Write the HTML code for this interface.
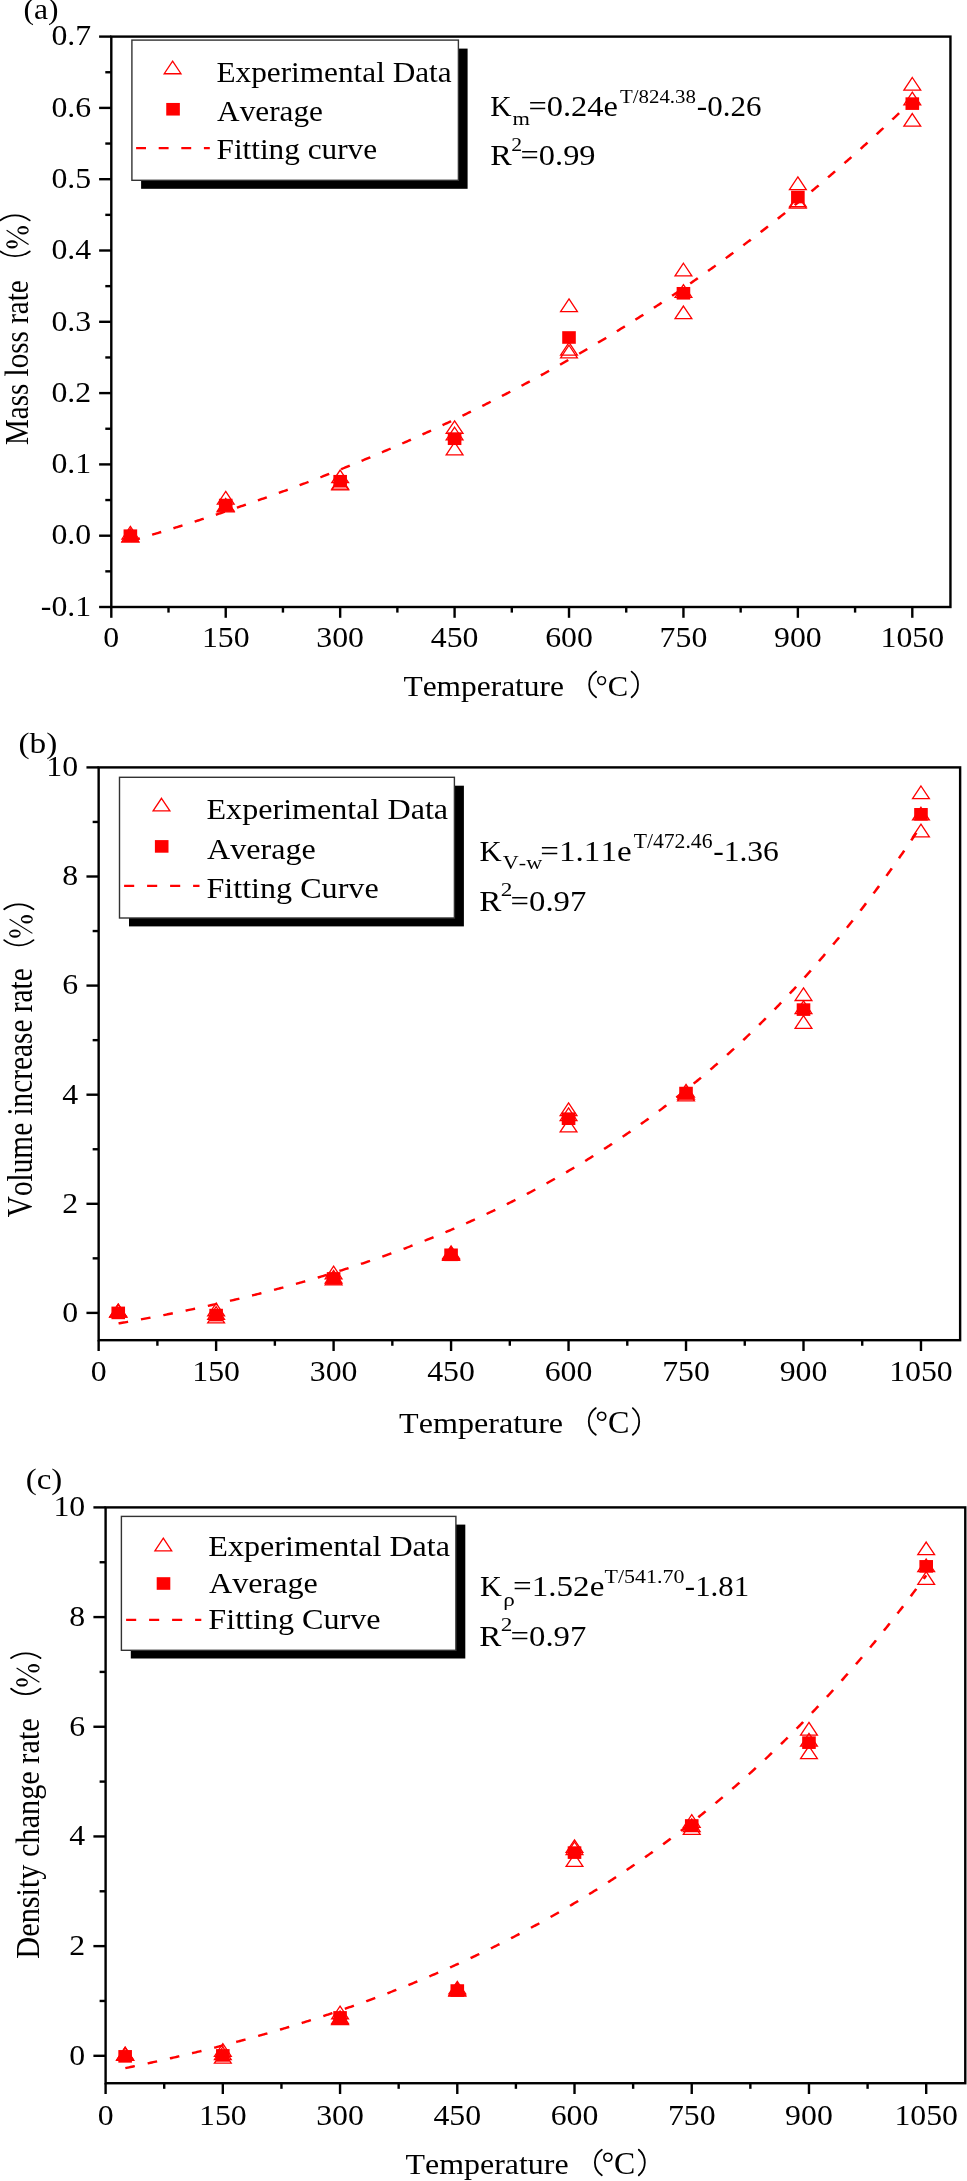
<!DOCTYPE html><html><head><meta charset="utf-8"><style>html,body{margin:0;padding:0;background:#fff;}svg{display:block;will-change:transform;} text{font-family:"Liberation Serif",serif;font-kerning:none;}</style></head><body>
<svg width="967" height="2181" viewBox="0 0 967 2181">
<rect width="967" height="2181" fill="#fff"/>
<rect x="111.30" y="36.60" width="839.14" height="570.40" fill="none" stroke="#000" stroke-width="2.4"/>
<line x1="99.10" y1="607.00" x2="111.30" y2="607.00" stroke="#000" stroke-width="2.4"/>
<line x1="99.10" y1="535.70" x2="111.30" y2="535.70" stroke="#000" stroke-width="2.4"/>
<line x1="99.10" y1="464.40" x2="111.30" y2="464.40" stroke="#000" stroke-width="2.4"/>
<line x1="99.10" y1="393.10" x2="111.30" y2="393.10" stroke="#000" stroke-width="2.4"/>
<line x1="99.10" y1="321.80" x2="111.30" y2="321.80" stroke="#000" stroke-width="2.4"/>
<line x1="99.10" y1="250.50" x2="111.30" y2="250.50" stroke="#000" stroke-width="2.4"/>
<line x1="99.10" y1="179.20" x2="111.30" y2="179.20" stroke="#000" stroke-width="2.4"/>
<line x1="99.10" y1="107.90" x2="111.30" y2="107.90" stroke="#000" stroke-width="2.4"/>
<line x1="99.10" y1="36.60" x2="111.30" y2="36.60" stroke="#000" stroke-width="2.4"/>
<line x1="105.30" y1="571.35" x2="111.30" y2="571.35" stroke="#000" stroke-width="2.4"/>
<line x1="105.30" y1="500.05" x2="111.30" y2="500.05" stroke="#000" stroke-width="2.4"/>
<line x1="105.30" y1="428.75" x2="111.30" y2="428.75" stroke="#000" stroke-width="2.4"/>
<line x1="105.30" y1="357.45" x2="111.30" y2="357.45" stroke="#000" stroke-width="2.4"/>
<line x1="105.30" y1="286.15" x2="111.30" y2="286.15" stroke="#000" stroke-width="2.4"/>
<line x1="105.30" y1="214.85" x2="111.30" y2="214.85" stroke="#000" stroke-width="2.4"/>
<line x1="105.30" y1="143.55" x2="111.30" y2="143.55" stroke="#000" stroke-width="2.4"/>
<line x1="105.30" y1="72.25" x2="111.30" y2="72.25" stroke="#000" stroke-width="2.4"/>
<line x1="111.30" y1="607.00" x2="111.30" y2="617.80" stroke="#000" stroke-width="2.4"/>
<line x1="225.73" y1="607.00" x2="225.73" y2="617.80" stroke="#000" stroke-width="2.4"/>
<line x1="340.16" y1="607.00" x2="340.16" y2="617.80" stroke="#000" stroke-width="2.4"/>
<line x1="454.59" y1="607.00" x2="454.59" y2="617.80" stroke="#000" stroke-width="2.4"/>
<line x1="569.01" y1="607.00" x2="569.01" y2="617.80" stroke="#000" stroke-width="2.4"/>
<line x1="683.44" y1="607.00" x2="683.44" y2="617.80" stroke="#000" stroke-width="2.4"/>
<line x1="797.87" y1="607.00" x2="797.87" y2="617.80" stroke="#000" stroke-width="2.4"/>
<line x1="912.30" y1="607.00" x2="912.30" y2="617.80" stroke="#000" stroke-width="2.4"/>
<line x1="168.51" y1="607.00" x2="168.51" y2="612.60" stroke="#000" stroke-width="2.4"/>
<line x1="282.94" y1="607.00" x2="282.94" y2="612.60" stroke="#000" stroke-width="2.4"/>
<line x1="397.37" y1="607.00" x2="397.37" y2="612.60" stroke="#000" stroke-width="2.4"/>
<line x1="511.80" y1="607.00" x2="511.80" y2="612.60" stroke="#000" stroke-width="2.4"/>
<line x1="626.23" y1="607.00" x2="626.23" y2="612.60" stroke="#000" stroke-width="2.4"/>
<line x1="740.66" y1="607.00" x2="740.66" y2="612.60" stroke="#000" stroke-width="2.4"/>
<line x1="855.09" y1="607.00" x2="855.09" y2="612.60" stroke="#000" stroke-width="2.4"/>
<text transform="translate(40.86,615.76) scale(1.0600,1)" font-size="30.00" fill="#000">-0.1</text>
<text transform="translate(51.45,544.46) scale(1.0600,1)" font-size="30.00" fill="#000">0.0</text>
<text transform="translate(51.45,473.16) scale(1.0600,1)" font-size="30.00" fill="#000">0.1</text>
<text transform="translate(51.45,401.86) scale(1.0600,1)" font-size="30.00" fill="#000">0.2</text>
<text transform="translate(51.45,330.56) scale(1.0600,1)" font-size="30.00" fill="#000">0.3</text>
<text transform="translate(51.45,259.26) scale(1.0600,1)" font-size="30.00" fill="#000">0.4</text>
<text transform="translate(51.45,187.96) scale(1.0600,1)" font-size="30.00" fill="#000">0.5</text>
<text transform="translate(51.45,116.66) scale(1.0600,1)" font-size="30.00" fill="#000">0.6</text>
<text transform="translate(51.45,45.36) scale(1.0600,1)" font-size="30.00" fill="#000">0.7</text>
<text transform="translate(103.35,646.80) scale(1.0600,1)" font-size="30.00" fill="#000">0</text>
<text transform="translate(201.88,646.80) scale(1.0600,1)" font-size="30.00" fill="#000">150</text>
<text transform="translate(316.31,646.80) scale(1.0600,1)" font-size="30.00" fill="#000">300</text>
<text transform="translate(430.74,646.80) scale(1.0600,1)" font-size="30.00" fill="#000">450</text>
<text transform="translate(545.16,646.80) scale(1.0600,1)" font-size="30.00" fill="#000">600</text>
<text transform="translate(659.59,646.80) scale(1.0600,1)" font-size="30.00" fill="#000">750</text>
<text transform="translate(774.02,646.80) scale(1.0600,1)" font-size="30.00" fill="#000">900</text>
<text transform="translate(880.50,646.80) scale(1.0600,1)" font-size="30.00" fill="#000">1050</text>
<text transform="translate(23.41,19.40) scale(1.0714,1)" font-size="29.50" fill="#000">(a)</text>
<text transform="translate(28.20,445.04) scale(1.1335,1) rotate(-90)" font-size="29.09">Mass loss rate</text>
<path d="M0.40,251.40 A24.76,24.76 0 0,0 29.70,251.40" fill="none" stroke="#000" stroke-width="1.8" stroke-linecap="round"/>
<path d="M0.40,220.40 A23.96,23.96 0 0,1 29.70,220.40" fill="none" stroke="#000" stroke-width="1.8" stroke-linecap="round"/>
<path d="M17.40,230.35 a5.65,4.25 0 1,0 11.30,0 a5.65,4.25 0 1,0 -11.30,0 Z M18.50,230.35 a4.55,2.05 0 1,0 9.10,0 a4.55,2.05 0 1,0 -9.10,0 Z" fill="#000" fill-rule="evenodd"/>
<path d="M6.20,244.30 a5.80,4.10 0 1,0 11.60,0 a5.80,4.10 0 1,0 -11.60,0 Z M7.30,244.30 a4.70,1.90 0 1,0 9.40,0 a4.70,1.90 0 1,0 -9.40,0 Z" fill="#000" fill-rule="evenodd"/>
<line x1="6.60" y1="230.20" x2="28.60" y2="244.50" stroke="#000" stroke-width="1.1"/>
<text transform="translate(403.43,696.10) scale(1.0478,1)" font-size="30.00" fill="#000">Temperature</text>
<path d="M596.10,671.60 A15.32,15.32 0 0,0 596.10,697.20" fill="none" stroke="#000" stroke-width="1.8" stroke-linecap="round"/>
<path d="M631.60,671.60 A16.00,16.00 0 0,1 631.60,697.20" fill="none" stroke="#000" stroke-width="1.8" stroke-linecap="round"/>
<text transform="translate(595.54,696.20) scale(1.0125,1)" font-size="30.23" fill="#000">°C</text>
<rect x="141.10" y="48.60" width="326.50" height="140.20" fill="#000"/>
<rect x="131.90" y="40.10" width="326.50" height="140.20" fill="#fff" stroke="#333" stroke-width="1.4"/>
<path d="M172.60,61.10 L181.00,73.75 L164.20,73.75 Z" fill="none" stroke="#ff0000" stroke-width="1.3"/>
<rect x="166.25" y="102.95" width="13.60" height="12.60" fill="#ff0000"/>
<line x1="136.10" y1="148.10" x2="209.80" y2="148.10" stroke="#ff0000" stroke-width="2.2" stroke-dasharray="9.9 12.7"/>
<text transform="translate(216.50,82.10) scale(1.0670,1)" font-size="29.30" fill="#000">Experimental Data</text>
<text transform="translate(217.09,120.70) scale(1.0670,1)" font-size="29.30" fill="#000">Average</text>
<text transform="translate(216.50,159.40) scale(1.0670,1)" font-size="29.30" fill="#000">Fitting curve</text>
<text transform="translate(490.35,116.00) scale(0.9990,1)" font-size="29.60" fill="#000">K</text>
<text transform="translate(512.43,124.60) scale(1.2238,1)" font-size="18.30" fill="#000">m</text>
<text transform="translate(528.38,116.00) scale(1.0969,1)" font-size="29.60" fill="#000">=0.24e</text>
<text transform="translate(619.92,102.80) scale(1.0613,1)" font-size="19.70" fill="#000">T/824.38</text>
<text transform="translate(696.85,115.80) scale(1.0490,1)" font-size="29.60" fill="#000">-0.26</text>
<text transform="translate(490.27,164.80) scale(1.0914,1)" font-size="29.50" fill="#000">R</text>
<text transform="translate(511.35,151.10) scale(1.1731,1)" font-size="18.50" fill="#000">2</text>
<text transform="translate(520.59,165.10) scale(1.0978,1)" font-size="29.50" fill="#000">=0.99</text>
<g transform="scale(1.08,1)"><path d="M120.714,541.09 L121.921,540.71 L123.128,540.34 L124.334,539.96 L125.541,539.58 L126.748,539.20 L127.954,538.82 L129.161,538.44 L130.368,538.06 L131.574,537.68 L132.781,537.29 L133.988,536.91 L135.194,536.53 L136.401,536.14 L137.608,535.75 L138.814,535.37 L140.021,534.98 L141.228,534.59 L142.435,534.20 L143.641,533.81 L144.848,533.42 L146.055,533.03 L147.261,532.64 L148.468,532.24 L149.675,531.85 L150.881,531.46 L152.088,531.06 L153.295,530.66 L154.501,530.27 L155.708,529.87 L156.915,529.47 L158.121,529.07 L159.328,528.67 L160.535,528.27 L161.741,527.87 L162.948,527.46 L164.155,527.06 L165.361,526.65 L166.568,526.25 L167.775,525.84 L168.981,525.44 L170.188,525.03 L171.395,524.62 L172.602,524.21 L173.808,523.80 L175.015,523.39 L176.222,522.98 L177.428,522.56 L178.635,522.15 L179.842,521.74 L181.048,521.32 L182.255,520.90 L183.462,520.49 L184.668,520.07 L185.875,519.65 L187.082,519.23 L188.288,518.81 L189.495,518.39 L190.702,517.97 L191.908,517.54 L193.115,517.12 L194.322,516.70 L195.528,516.27 L196.735,515.84 L197.942,515.42 L199.148,514.99 L200.355,514.56 L201.562,514.13 L202.769,513.70 L203.975,513.27 L205.182,512.83 L206.389,512.40 L207.595,511.97 L208.802,511.53 L210.009,511.09 L211.215,510.66 L212.422,510.22 L213.629,509.78 L214.835,509.34 L216.042,508.90 L217.249,508.46 L218.455,508.02 L219.662,507.57 L220.869,507.13 L222.075,506.68 L223.282,506.24 L224.489,505.79 L225.695,505.34 L226.902,504.89 L228.109,504.45 L229.315,503.99 L230.522,503.54 L231.729,503.09 L232.936,502.64 L234.142,502.18 L235.349,501.73 L236.556,501.27 L237.762,500.82 L238.969,500.36 L240.176,499.90 L241.382,499.44 L242.589,498.98 L243.796,498.52 L245.002,498.05 L246.209,497.59 L247.416,497.13 L248.622,496.66 L249.829,496.19 L251.036,495.73 L252.242,495.26 L253.449,494.79 L254.656,494.32 L255.862,493.85 L257.069,493.38 L258.276,492.90 L259.482,492.43 L260.689,491.95 L261.896,491.48 L263.103,491.00 L264.309,490.52 L265.516,490.04 L266.723,489.56 L267.929,489.08 L269.136,488.60 L270.343,488.12 L271.549,487.64 L272.756,487.15 L273.963,486.67 L275.169,486.18 L276.376,485.69 L277.583,485.20 L278.789,484.71 L279.996,484.22 L281.203,483.73 L282.409,483.24 L283.616,482.74 L284.823,482.25 L286.029,481.75 L287.236,481.26 L288.443,480.76 L289.649,480.26 L290.856,479.76 L292.063,479.26 L293.270,478.76 L294.476,478.26 L295.683,477.75 L296.890,477.25 L298.096,476.74 L299.303,476.23 L300.510,475.73 L301.716,475.22 L302.923,474.71 L304.130,474.20 L305.336,473.69 L306.543,473.17 L307.750,472.66 L308.956,472.14 L310.163,471.63 L311.370,471.11 L312.576,470.59 L313.783,470.07 L314.990,469.55 L316.196,469.03 L317.403,468.51 L318.610,467.98 L319.816,467.46 L321.023,466.93 L322.230,466.41 L323.437,465.88 L324.643,465.35 L325.850,464.82 L327.057,464.29 L328.263,463.76 L329.470,463.22 L330.677,462.69 L331.883,462.15 L333.090,461.62 L334.297,461.08 L335.503,460.54 L336.710,460.00 L337.917,459.46 L339.123,458.92 L340.330,458.38 L341.537,457.83 L342.743,457.29 L343.950,456.74 L345.157,456.19 L346.363,455.64 L347.570,455.09 L348.777,454.54 L349.983,453.99 L351.190,453.44 L352.397,452.88 L353.604,452.33 L354.810,451.77 L356.017,451.21 L357.224,450.65 L358.430,450.09 L359.637,449.53 L360.844,448.97 L362.050,448.41 L363.257,447.84 L364.464,447.28 L365.670,446.71 L366.877,446.14 L368.084,445.57 L369.290,445.00 L370.497,444.43 L371.704,443.86 L372.910,443.29 L374.117,442.71 L375.324,442.14 L376.530,441.56 L377.737,440.98 L378.944,440.40 L380.150,439.82 L381.357,439.24 L382.564,438.66 L383.771,438.07 L384.977,437.49 L386.184,436.90 L387.391,436.31 L388.597,435.72 L389.804,435.13 L391.011,434.54 L392.217,433.95 L393.424,433.35 L394.631,432.76 L395.837,432.16 L397.044,431.56 L398.251,430.97 L399.457,430.37 L400.664,429.76 L401.871,429.16 L403.077,428.56 L404.284,427.95 L405.491,427.35 L406.697,426.74 L407.904,426.13 L409.111,425.52 L410.317,424.91 L411.524,424.30 L412.731,423.69 L413.938,423.07 L415.144,422.46 L416.351,421.84 L417.558,421.22 L418.764,420.60 L419.971,419.98 L421.178,419.36 L422.384,418.73 L423.591,418.11 L424.798,417.48 L426.004,416.85 L427.211,416.23 L428.418,415.60 L429.624,414.97 L430.831,414.33 L432.038,413.70 L433.244,413.06 L434.451,412.43 L435.658,411.79 L436.864,411.15 L438.071,410.51 L439.278,409.87 L440.484,409.23 L441.691,408.58 L442.898,407.94 L444.104,407.29 L445.311,406.64 L446.518,405.99 L447.725,405.34 L448.931,404.69 L450.138,404.04 L451.345,403.38 L452.551,402.73 L453.758,402.07 L454.965,401.41 L456.171,400.75 L457.378,400.09 L458.585,399.43 L459.791,398.76 L460.998,398.10 L462.205,397.43 L463.411,396.76 L464.618,396.09 L465.825,395.42 L467.031,394.75 L468.238,394.08 L469.445,393.40 L470.651,392.72 L471.858,392.05 L473.065,391.37 L474.271,390.69 L475.478,390.01 L476.685,389.32 L477.892,388.64 L479.098,387.95 L480.305,387.26 L481.512,386.58 L482.718,385.89 L483.925,385.19 L485.132,384.50 L486.338,383.81 L487.545,383.11 L488.752,382.41 L489.958,381.71 L491.165,381.01 L492.372,380.31 L493.578,379.61 L494.785,378.91 L495.992,378.20 L497.198,377.49 L498.405,376.78 L499.612,376.07 L500.818,375.36 L502.025,374.65 L503.232,373.94 L504.438,373.22 L505.645,372.50 L506.852,371.78 L508.059,371.06 L509.265,370.34 L510.472,369.62 L511.679,368.89 L512.885,368.17 L514.092,367.44 L515.299,366.71 L516.505,365.98 L517.712,365.25 L518.919,364.51 L520.125,363.78 L521.332,363.04 L522.539,362.30 L523.745,361.57 L524.952,360.82 L526.159,360.08 L527.365,359.34 L528.572,358.59 L529.779,357.84 L530.985,357.10 L532.192,356.35 L533.399,355.59 L534.605,354.84 L535.812,354.09 L537.019,353.33 L538.226,352.57 L539.432,351.81 L540.639,351.05 L541.846,350.29 L543.052,349.53 L544.259,348.76 L545.466,347.99 L546.672,347.22 L547.879,346.45 L549.086,345.68 L550.292,344.91 L551.499,344.13 L552.706,343.36 L553.912,342.58 L555.119,341.80 L556.326,341.02 L557.532,340.24 L558.739,339.45 L559.946,338.67 L561.152,337.88 L562.359,337.09 L563.566,336.30 L564.772,335.51 L565.979,334.71 L567.186,333.92 L568.393,333.12 L569.599,332.32 L570.806,331.52 L572.013,330.72 L573.219,329.91 L574.426,329.11 L575.633,328.30 L576.839,327.49 L578.046,326.68 L579.253,325.87 L580.459,325.06 L581.666,324.24 L582.873,323.42 L584.079,322.61 L585.286,321.79 L586.493,320.96 L587.699,320.14 L588.906,319.32 L590.113,318.49 L591.319,317.66 L592.526,316.83 L593.733,316.00 L594.939,315.16 L596.146,314.33 L597.353,313.49 L598.560,312.65 L599.766,311.81 L600.973,310.97 L602.180,310.13 L603.386,309.28 L604.593,308.43 L605.800,307.58 L607.006,306.73 L608.213,305.88 L609.420,305.03 L610.626,304.17 L611.833,303.31 L613.040,302.45 L614.246,301.59 L615.453,300.73 L616.660,299.86 L617.866,299.00 L619.073,298.13 L620.280,297.26 L621.486,296.39 L622.693,295.51 L623.900,294.64 L625.106,293.76 L626.313,292.88 L627.520,292.00 L628.727,291.12 L629.933,290.24 L631.140,289.35 L632.347,288.46 L633.553,287.57 L634.760,286.68 L635.967,285.79 L637.173,284.89 L638.380,283.99 L639.587,283.10 L640.793,282.20 L642.000,281.29 L643.207,280.39 L644.413,279.48 L645.620,278.58 L646.827,277.67 L648.033,276.75 L649.240,275.84 L650.447,274.92 L651.653,274.01 L652.860,273.09 L654.067,272.17 L655.273,271.24 L656.480,270.32 L657.687,269.39 L658.894,268.47 L660.100,267.53 L661.307,266.60 L662.514,265.67 L663.720,264.73 L664.927,263.79 L666.134,262.85 L667.340,261.91 L668.547,260.97 L669.754,260.02 L670.960,259.08 L672.167,258.13 L673.374,257.18 L674.580,256.22 L675.787,255.27 L676.994,254.31 L678.200,253.35 L679.407,252.39 L680.614,251.43 L681.820,250.46 L683.027,249.49 L684.234,248.53 L685.440,247.55 L686.647,246.58 L687.854,245.61 L689.061,244.63 L690.267,243.65 L691.474,242.67 L692.681,241.69 L693.887,240.70 L695.094,239.72 L696.301,238.73 L697.507,237.74 L698.714,236.74 L699.921,235.75 L701.127,234.75 L702.334,233.75 L703.541,232.75 L704.747,231.75 L705.954,230.74 L707.161,229.74 L708.367,228.73 L709.574,227.72 L710.781,226.70 L711.987,225.69 L713.194,224.67 L714.401,223.65 L715.607,222.63 L716.814,221.61 L718.021,220.58 L719.228,219.55 L720.434,218.52 L721.641,217.49 L722.848,216.46 L724.054,215.42 L725.261,214.38 L726.468,213.34 L727.674,212.30 L728.881,211.26 L730.088,210.21 L731.294,209.16 L732.501,208.11 L733.708,207.06 L734.914,206.00 L736.121,204.95 L737.328,203.89 L738.534,202.82 L739.741,201.76 L740.948,200.69 L742.154,199.63 L743.361,198.56 L744.568,197.48 L745.774,196.41 L746.981,195.33 L748.188,194.25 L749.395,193.17 L750.601,192.09 L751.808,191.00 L753.015,189.91 L754.221,188.82 L755.428,187.73 L756.635,186.64 L757.841,185.54 L759.048,184.44 L760.255,183.34 L761.461,182.24 L762.668,181.13 L763.875,180.02 L765.081,178.91 L766.288,177.80 L767.495,176.69 L768.701,175.57 L769.908,174.45 L771.115,173.33 L772.321,172.21 L773.528,171.08 L774.735,169.95 L775.941,168.82 L777.148,167.69 L778.355,166.55 L779.562,165.42 L780.768,164.28 L781.975,163.13 L783.182,161.99 L784.388,160.84 L785.595,159.69 L786.802,158.54 L788.008,157.39 L789.215,156.23 L790.422,155.07 L791.628,153.91 L792.835,152.75 L794.042,151.58 L795.248,150.41 L796.455,149.24 L797.662,148.07 L798.868,146.90 L800.075,145.72 L801.282,144.54 L802.488,143.36 L803.695,142.17 L804.902,140.99 L806.108,139.80 L807.315,138.60 L808.522,137.41 L809.729,136.21 L810.935,135.01 L812.142,133.81 L813.349,132.61 L814.555,131.40 L815.762,130.19 L816.969,128.98 L818.175,127.77 L819.382,126.55 L820.589,125.33 L821.795,124.11 L823.002,122.89 L824.209,121.66 L825.415,120.43 L826.622,119.20 L827.829,117.97 L829.035,116.73 L830.242,115.49 L831.449,114.25 L832.655,113.01 L833.862,111.76 L835.069,110.51 L836.275,109.26 L837.482,108.00 L838.689,106.75 L839.896,105.49 L841.102,104.23 L842.309,102.96 L843.516,101.70 L844.722,100.43" fill="none" stroke="#ff0000" stroke-width="2.4" stroke-dasharray="8.85 11.912" stroke-dashoffset="20.412"/></g>
<path d="M130.37,526.35 L138.77,539.00 L121.97,539.00 Z" fill="none" stroke="#ff0000" stroke-width="1.3"/>
<path d="M130.37,529.20 L138.77,541.85 L121.97,541.85 Z" fill="none" stroke="#ff0000" stroke-width="1.3"/>
<path d="M130.37,529.20 L138.77,541.85 L121.97,541.85 Z" fill="none" stroke="#ff0000" stroke-width="1.3"/>
<rect x="123.57" y="529.40" width="13.60" height="12.60" fill="#ff0000"/>
<path d="M225.73,491.41 L234.13,504.06 L217.33,504.06 Z" fill="none" stroke="#ff0000" stroke-width="1.3"/>
<path d="M225.73,498.54 L234.13,511.19 L217.33,511.19 Z" fill="none" stroke="#ff0000" stroke-width="1.3"/>
<path d="M225.73,499.25 L234.13,511.90 L217.33,511.90 Z" fill="none" stroke="#ff0000" stroke-width="1.3"/>
<rect x="218.93" y="498.74" width="13.60" height="12.60" fill="#ff0000"/>
<path d="M340.16,470.02 L348.56,482.67 L331.76,482.67 Z" fill="none" stroke="#ff0000" stroke-width="1.3"/>
<path d="M340.16,476.44 L348.56,489.09 L331.76,489.09 Z" fill="none" stroke="#ff0000" stroke-width="1.3"/>
<path d="M340.16,477.15 L348.56,489.80 L331.76,489.80 Z" fill="none" stroke="#ff0000" stroke-width="1.3"/>
<rect x="333.36" y="474.93" width="13.60" height="12.60" fill="#ff0000"/>
<path d="M454.59,420.82 L462.99,433.47 L446.19,433.47 Z" fill="none" stroke="#ff0000" stroke-width="1.3"/>
<path d="M454.59,427.24 L462.99,439.89 L446.19,439.89 Z" fill="none" stroke="#ff0000" stroke-width="1.3"/>
<path d="M454.59,442.21 L462.99,454.86 L446.19,454.86 Z" fill="none" stroke="#ff0000" stroke-width="1.3"/>
<rect x="447.79" y="432.43" width="13.60" height="12.60" fill="#ff0000"/>
<path d="M569.01,298.90 L577.41,311.55 L560.61,311.55 Z" fill="none" stroke="#ff0000" stroke-width="1.3"/>
<path d="M569.01,342.39 L577.41,355.04 L560.61,355.04 Z" fill="none" stroke="#ff0000" stroke-width="1.3"/>
<path d="M569.01,345.25 L577.41,357.90 L560.61,357.90 Z" fill="none" stroke="#ff0000" stroke-width="1.3"/>
<rect x="562.21" y="331.19" width="13.60" height="12.60" fill="#ff0000"/>
<path d="M683.44,263.25 L691.84,275.90 L675.04,275.90 Z" fill="none" stroke="#ff0000" stroke-width="1.3"/>
<path d="M683.44,284.64 L691.84,297.29 L675.04,297.29 Z" fill="none" stroke="#ff0000" stroke-width="1.3"/>
<path d="M683.44,306.03 L691.84,318.68 L675.04,318.68 Z" fill="none" stroke="#ff0000" stroke-width="1.3"/>
<rect x="676.64" y="286.98" width="13.60" height="12.60" fill="#ff0000"/>
<path d="M797.87,176.98 L806.27,189.63 L789.47,189.63 Z" fill="none" stroke="#ff0000" stroke-width="1.3"/>
<path d="M797.87,194.09 L806.27,206.74 L789.47,206.74 Z" fill="none" stroke="#ff0000" stroke-width="1.3"/>
<path d="M797.87,195.52 L806.27,208.17 L789.47,208.17 Z" fill="none" stroke="#ff0000" stroke-width="1.3"/>
<rect x="791.07" y="190.73" width="13.60" height="12.60" fill="#ff0000"/>
<path d="M912.30,77.51 L920.70,90.16 L903.90,90.16 Z" fill="none" stroke="#ff0000" stroke-width="1.3"/>
<path d="M912.30,92.13 L920.70,104.78 L903.90,104.78 Z" fill="none" stroke="#ff0000" stroke-width="1.3"/>
<path d="M912.30,113.52 L920.70,126.17 L903.90,126.17 Z" fill="none" stroke="#ff0000" stroke-width="1.3"/>
<rect x="905.50" y="97.32" width="13.60" height="12.60" fill="#ff0000"/>
<rect x="98.65" y="767.40" width="861.48" height="572.78" fill="none" stroke="#000" stroke-width="2.4"/>
<line x1="86.45" y1="1312.90" x2="98.65" y2="1312.90" stroke="#000" stroke-width="2.4"/>
<line x1="86.45" y1="1203.80" x2="98.65" y2="1203.80" stroke="#000" stroke-width="2.4"/>
<line x1="86.45" y1="1094.70" x2="98.65" y2="1094.70" stroke="#000" stroke-width="2.4"/>
<line x1="86.45" y1="985.60" x2="98.65" y2="985.60" stroke="#000" stroke-width="2.4"/>
<line x1="86.45" y1="876.50" x2="98.65" y2="876.50" stroke="#000" stroke-width="2.4"/>
<line x1="86.45" y1="767.40" x2="98.65" y2="767.40" stroke="#000" stroke-width="2.4"/>
<line x1="92.65" y1="1258.35" x2="98.65" y2="1258.35" stroke="#000" stroke-width="2.4"/>
<line x1="92.65" y1="1149.25" x2="98.65" y2="1149.25" stroke="#000" stroke-width="2.4"/>
<line x1="92.65" y1="1040.15" x2="98.65" y2="1040.15" stroke="#000" stroke-width="2.4"/>
<line x1="92.65" y1="931.05" x2="98.65" y2="931.05" stroke="#000" stroke-width="2.4"/>
<line x1="92.65" y1="821.95" x2="98.65" y2="821.95" stroke="#000" stroke-width="2.4"/>
<line x1="98.65" y1="1340.18" x2="98.65" y2="1350.98" stroke="#000" stroke-width="2.4"/>
<line x1="216.12" y1="1340.18" x2="216.12" y2="1350.98" stroke="#000" stroke-width="2.4"/>
<line x1="333.60" y1="1340.18" x2="333.60" y2="1350.98" stroke="#000" stroke-width="2.4"/>
<line x1="451.07" y1="1340.18" x2="451.07" y2="1350.98" stroke="#000" stroke-width="2.4"/>
<line x1="568.55" y1="1340.18" x2="568.55" y2="1350.98" stroke="#000" stroke-width="2.4"/>
<line x1="686.02" y1="1340.18" x2="686.02" y2="1350.98" stroke="#000" stroke-width="2.4"/>
<line x1="803.50" y1="1340.18" x2="803.50" y2="1350.98" stroke="#000" stroke-width="2.4"/>
<line x1="920.97" y1="1340.18" x2="920.97" y2="1350.98" stroke="#000" stroke-width="2.4"/>
<line x1="157.39" y1="1340.18" x2="157.39" y2="1345.78" stroke="#000" stroke-width="2.4"/>
<line x1="274.86" y1="1340.18" x2="274.86" y2="1345.78" stroke="#000" stroke-width="2.4"/>
<line x1="392.34" y1="1340.18" x2="392.34" y2="1345.78" stroke="#000" stroke-width="2.4"/>
<line x1="509.81" y1="1340.18" x2="509.81" y2="1345.78" stroke="#000" stroke-width="2.4"/>
<line x1="627.28" y1="1340.18" x2="627.28" y2="1345.78" stroke="#000" stroke-width="2.4"/>
<line x1="744.76" y1="1340.18" x2="744.76" y2="1345.78" stroke="#000" stroke-width="2.4"/>
<line x1="862.23" y1="1340.18" x2="862.23" y2="1345.78" stroke="#000" stroke-width="2.4"/>
<text transform="translate(62.20,1321.73) scale(1.0600,1)" font-size="30.00" fill="#000">0</text>
<text transform="translate(62.20,1212.73) scale(1.0600,1)" font-size="30.00" fill="#000">2</text>
<text transform="translate(62.20,1103.57) scale(1.0600,1)" font-size="30.00" fill="#000">4</text>
<text transform="translate(62.20,994.39) scale(1.0600,1)" font-size="30.00" fill="#000">6</text>
<text transform="translate(62.20,885.33) scale(1.0600,1)" font-size="30.00" fill="#000">8</text>
<text transform="translate(46.30,776.23) scale(1.0600,1)" font-size="30.00" fill="#000">10</text>
<text transform="translate(90.70,1380.80) scale(1.0600,1)" font-size="30.00" fill="#000">0</text>
<text transform="translate(192.27,1380.80) scale(1.0600,1)" font-size="30.00" fill="#000">150</text>
<text transform="translate(309.75,1380.80) scale(1.0600,1)" font-size="30.00" fill="#000">300</text>
<text transform="translate(427.22,1380.80) scale(1.0600,1)" font-size="30.00" fill="#000">450</text>
<text transform="translate(544.70,1380.80) scale(1.0600,1)" font-size="30.00" fill="#000">600</text>
<text transform="translate(662.17,1380.80) scale(1.0600,1)" font-size="30.00" fill="#000">750</text>
<text transform="translate(779.65,1380.80) scale(1.0600,1)" font-size="30.00" fill="#000">900</text>
<text transform="translate(889.17,1380.80) scale(1.0600,1)" font-size="30.00" fill="#000">1050</text>
<text transform="translate(18.44,752.90) scale(1.1288,1)" font-size="29.50" fill="#000">(b)</text>
<text transform="translate(32.10,1217.23) scale(1.1983,1) rotate(-90)" font-size="29.30">Volume increase rate</text>
<path d="M4.20,940.10 A23.24,23.24 0 0,0 33.50,940.10" fill="none" stroke="#000" stroke-width="1.8" stroke-linecap="round"/>
<path d="M4.20,909.20 A24.35,24.35 0 0,1 33.50,909.20" fill="none" stroke="#000" stroke-width="1.8" stroke-linecap="round"/>
<path d="M20.90,919.20 a5.95,4.20 0 1,0 11.90,0 a5.95,4.20 0 1,0 -11.90,0 Z M22.00,919.20 a4.85,2.00 0 1,0 9.70,0 a4.85,2.00 0 1,0 -9.70,0 Z" fill="#000" fill-rule="evenodd"/>
<path d="M9.10,933.60 a5.80,4.20 0 1,0 11.60,0 a5.80,4.20 0 1,0 -11.60,0 Z M10.20,933.60 a4.70,2.00 0 1,0 9.40,0 a4.70,2.00 0 1,0 -9.40,0 Z" fill="#000" fill-rule="evenodd"/>
<line x1="9.60" y1="919.20" x2="32.40" y2="933.40" stroke="#000" stroke-width="1.1"/>
<text transform="translate(399.12,1433.20) scale(1.0846,1)" font-size="29.62" fill="#000">Temperature</text>
<path d="M595.80,1408.10 A16.23,16.23 0 0,0 595.80,1434.80" fill="none" stroke="#000" stroke-width="1.8" stroke-linecap="round"/>
<path d="M632.80,1408.10 A17.12,17.12 0 0,1 632.80,1434.80" fill="none" stroke="#000" stroke-width="1.8" stroke-linecap="round"/>
<text transform="translate(595.16,1433.30) scale(1.0481,1)" font-size="30.69" fill="#000">°C</text>
<rect x="129.00" y="785.70" width="334.90" height="140.70" fill="#000"/>
<rect x="119.50" y="777.30" width="334.90" height="140.70" fill="#fff" stroke="#333" stroke-width="1.4"/>
<path d="M161.50,798.30 L169.90,810.95 L153.10,810.95 Z" fill="none" stroke="#ff0000" stroke-width="1.3"/>
<rect x="154.90" y="840.10" width="13.60" height="12.60" fill="#ff0000"/>
<line x1="124.10" y1="885.80" x2="199.50" y2="885.80" stroke="#ff0000" stroke-width="2.2" stroke-dasharray="10.1 12.9"/>
<text transform="translate(206.47,819.00) scale(1.0962,1)" font-size="29.30" fill="#000">Experimental Data</text>
<text transform="translate(207.09,858.80) scale(1.0962,1)" font-size="29.30" fill="#000">Average</text>
<text transform="translate(206.47,897.50) scale(1.0962,1)" font-size="29.30" fill="#000">Fitting Curve</text>
<text transform="translate(479.61,860.80) scale(1.0601,1)" font-size="29.00" fill="#000">K</text>
<text transform="translate(502.85,869.40) scale(1.1683,1)" font-size="18.90" fill="#000">V-w</text>
<text transform="translate(540.35,860.80) scale(1.1415,1)" font-size="29.00" fill="#000">=1.11e</text>
<text transform="translate(633.71,847.80) scale(1.0833,1)" font-size="20.00" fill="#000">T/472.46</text>
<text transform="translate(713.13,860.70) scale(1.0895,1)" font-size="29.00" fill="#000">-1.36</text>
<text transform="translate(479.25,910.80) scale(1.1233,1)" font-size="29.50" fill="#000">R</text>
<text transform="translate(500.68,896.40) scale(1.2540,1)" font-size="18.50" fill="#000">2</text>
<text transform="translate(510.57,911.00) scale(1.1101,1)" font-size="29.50" fill="#000">=0.97</text>
<g transform="scale(1.08,1)"><path d="M109.471,1323.48 L110.710,1323.24 L111.949,1323.01 L113.188,1322.78 L114.427,1322.54 L115.665,1322.31 L116.904,1322.07 L118.143,1321.83 L119.382,1321.59 L120.621,1321.35 L121.859,1321.11 L123.098,1320.87 L124.337,1320.63 L125.576,1320.39 L126.815,1320.14 L128.053,1319.90 L129.292,1319.65 L130.531,1319.41 L131.770,1319.16 L133.008,1318.91 L134.247,1318.66 L135.486,1318.41 L136.725,1318.16 L137.964,1317.91 L139.202,1317.66 L140.441,1317.40 L141.680,1317.15 L142.919,1316.89 L144.158,1316.64 L145.396,1316.38 L146.635,1316.12 L147.874,1315.86 L149.113,1315.60 L150.352,1315.34 L151.590,1315.08 L152.829,1314.82 L154.068,1314.55 L155.307,1314.29 L156.546,1314.02 L157.784,1313.76 L159.023,1313.49 L160.262,1313.22 L161.501,1312.95 L162.740,1312.68 L163.978,1312.41 L165.217,1312.14 L166.456,1311.86 L167.695,1311.59 L168.934,1311.31 L170.172,1311.04 L171.411,1310.76 L172.650,1310.48 L173.889,1310.20 L175.128,1309.92 L176.366,1309.64 L177.605,1309.36 L178.844,1309.07 L180.083,1308.79 L181.322,1308.50 L182.560,1308.22 L183.799,1307.93 L185.038,1307.64 L186.277,1307.35 L187.516,1307.06 L188.754,1306.77 L189.993,1306.47 L191.232,1306.18 L192.471,1305.88 L193.710,1305.59 L194.948,1305.29 L196.187,1304.99 L197.426,1304.69 L198.665,1304.39 L199.904,1304.09 L201.142,1303.79 L202.381,1303.48 L203.620,1303.18 L204.859,1302.87 L206.098,1302.57 L207.336,1302.26 L208.575,1301.95 L209.814,1301.64 L211.053,1301.33 L212.292,1301.01 L213.530,1300.70 L214.769,1300.38 L216.008,1300.07 L217.247,1299.75 L218.486,1299.43 L219.724,1299.11 L220.963,1298.79 L222.202,1298.47 L223.441,1298.15 L224.680,1297.82 L225.918,1297.50 L227.157,1297.17 L228.396,1296.84 L229.635,1296.51 L230.874,1296.18 L232.112,1295.85 L233.351,1295.52 L234.590,1295.19 L235.829,1294.85 L237.068,1294.52 L238.306,1294.18 L239.545,1293.84 L240.784,1293.50 L242.023,1293.16 L243.261,1292.82 L244.500,1292.47 L245.739,1292.13 L246.978,1291.78 L248.217,1291.44 L249.455,1291.09 L250.694,1290.74 L251.933,1290.39 L253.172,1290.03 L254.411,1289.68 L255.649,1289.33 L256.888,1288.97 L258.127,1288.61 L259.366,1288.25 L260.605,1287.89 L261.843,1287.53 L263.082,1287.17 L264.321,1286.80 L265.560,1286.44 L266.799,1286.07 L268.037,1285.70 L269.276,1285.34 L270.515,1284.96 L271.754,1284.59 L272.993,1284.22 L274.231,1283.84 L275.470,1283.47 L276.709,1283.09 L277.948,1282.71 L279.187,1282.33 L280.425,1281.95 L281.664,1281.57 L282.903,1281.18 L284.142,1280.80 L285.381,1280.41 L286.619,1280.02 L287.858,1279.63 L289.097,1279.24 L290.336,1278.85 L291.575,1278.45 L292.813,1278.06 L294.052,1277.66 L295.291,1277.26 L296.530,1276.86 L297.769,1276.46 L299.007,1276.06 L300.246,1275.66 L301.485,1275.25 L302.724,1274.84 L303.963,1274.43 L305.201,1274.02 L306.440,1273.61 L307.679,1273.20 L308.918,1272.78 L310.157,1272.37 L311.395,1271.95 L312.634,1271.53 L313.873,1271.11 L315.112,1270.69 L316.351,1270.26 L317.589,1269.84 L318.828,1269.41 L320.067,1268.98 L321.306,1268.55 L322.545,1268.12 L323.783,1267.69 L325.022,1267.26 L326.261,1266.82 L327.500,1266.38 L328.739,1265.94 L329.977,1265.50 L331.216,1265.06 L332.455,1264.62 L333.694,1264.17 L334.933,1263.72 L336.171,1263.27 L337.410,1262.82 L338.649,1262.37 L339.888,1261.92 L341.127,1261.46 L342.365,1261.00 L343.604,1260.55 L344.843,1260.08 L346.082,1259.62 L347.321,1259.16 L348.559,1258.69 L349.798,1258.23 L351.037,1257.76 L352.276,1257.29 L353.515,1256.81 L354.753,1256.34 L355.992,1255.86 L357.231,1255.39 L358.470,1254.91 L359.708,1254.43 L360.947,1253.94 L362.186,1253.46 L363.425,1252.97 L364.664,1252.49 L365.902,1252.00 L367.141,1251.51 L368.380,1251.01 L369.619,1250.52 L370.858,1250.02 L372.096,1249.52 L373.335,1249.02 L374.574,1248.52 L375.813,1248.02 L377.052,1247.51 L378.290,1247.00 L379.529,1246.49 L380.768,1245.98 L382.007,1245.47 L383.246,1244.95 L384.484,1244.44 L385.723,1243.92 L386.962,1243.40 L388.201,1242.87 L389.440,1242.35 L390.678,1241.82 L391.917,1241.29 L393.156,1240.76 L394.395,1240.23 L395.634,1239.70 L396.872,1239.16 L398.111,1238.62 L399.350,1238.08 L400.589,1237.54 L401.828,1237.00 L403.066,1236.45 L404.305,1235.91 L405.544,1235.36 L406.783,1234.80 L408.022,1234.25 L409.260,1233.69 L410.499,1233.14 L411.738,1232.58 L412.977,1232.02 L414.216,1231.45 L415.454,1230.89 L416.693,1230.32 L417.932,1229.75 L419.171,1229.18 L420.410,1228.60 L421.648,1228.03 L422.887,1227.45 L424.126,1226.87 L425.365,1226.28 L426.604,1225.70 L427.842,1225.11 L429.081,1224.52 L430.320,1223.93 L431.559,1223.34 L432.798,1222.75 L434.036,1222.15 L435.275,1221.55 L436.514,1220.95 L437.753,1220.34 L438.992,1219.74 L440.230,1219.13 L441.469,1218.52 L442.708,1217.91 L443.947,1217.29 L445.186,1216.67 L446.424,1216.05 L447.663,1215.43 L448.902,1214.81 L450.141,1214.18 L451.380,1213.55 L452.618,1212.92 L453.857,1212.29 L455.096,1211.66 L456.335,1211.02 L457.574,1210.38 L458.812,1209.74 L460.051,1209.09 L461.290,1208.44 L462.529,1207.79 L463.768,1207.14 L465.006,1206.49 L466.245,1205.83 L467.484,1205.17 L468.723,1204.51 L469.961,1203.85 L471.200,1203.18 L472.439,1202.52 L473.678,1201.85 L474.917,1201.17 L476.155,1200.50 L477.394,1199.82 L478.633,1199.14 L479.872,1198.46 L481.111,1197.77 L482.349,1197.08 L483.588,1196.39 L484.827,1195.70 L486.066,1195.00 L487.305,1194.31 L488.543,1193.61 L489.782,1192.90 L491.021,1192.20 L492.260,1191.49 L493.499,1190.78 L494.737,1190.06 L495.976,1189.35 L497.215,1188.63 L498.454,1187.91 L499.693,1187.19 L500.931,1186.46 L502.170,1185.73 L503.409,1185.00 L504.648,1184.27 L505.887,1183.53 L507.125,1182.79 L508.364,1182.05 L509.603,1181.30 L510.842,1180.55 L512.081,1179.80 L513.319,1179.05 L514.558,1178.30 L515.797,1177.54 L517.036,1176.78 L518.275,1176.01 L519.513,1175.25 L520.752,1174.48 L521.991,1173.70 L523.230,1172.93 L524.469,1172.15 L525.707,1171.37 L526.946,1170.59 L528.185,1169.80 L529.424,1169.01 L530.663,1168.22 L531.901,1167.42 L533.140,1166.63 L534.379,1165.83 L535.618,1165.02 L536.857,1164.22 L538.095,1163.41 L539.334,1162.59 L540.573,1161.78 L541.812,1160.96 L543.051,1160.14 L544.289,1159.32 L545.528,1158.49 L546.767,1157.66 L548.006,1156.83 L549.245,1155.99 L550.483,1155.15 L551.722,1154.31 L552.961,1153.46 L554.200,1152.61 L555.439,1151.76 L556.677,1150.91 L557.916,1150.05 L559.155,1149.19 L560.394,1148.33 L561.633,1147.46 L562.871,1146.59 L564.110,1145.72 L565.349,1144.84 L566.588,1143.96 L567.827,1143.08 L569.065,1142.19 L570.304,1141.30 L571.543,1140.41 L572.782,1139.51 L574.021,1138.61 L575.259,1137.71 L576.498,1136.81 L577.737,1135.90 L578.976,1134.99 L580.214,1134.07 L581.453,1133.15 L582.692,1132.23 L583.931,1131.30 L585.170,1130.38 L586.408,1129.44 L587.647,1128.51 L588.886,1127.57 L590.125,1126.63 L591.364,1125.68 L592.602,1124.73 L593.841,1123.78 L595.080,1122.82 L596.319,1121.87 L597.558,1120.90 L598.796,1119.94 L600.035,1118.97 L601.274,1117.99 L602.513,1117.02 L603.752,1116.04 L604.990,1115.05 L606.229,1114.06 L607.468,1113.07 L608.707,1112.08 L609.946,1111.08 L611.184,1110.08 L612.423,1109.07 L613.662,1108.06 L614.901,1107.05 L616.140,1106.03 L617.378,1105.01 L618.617,1103.99 L619.856,1102.96 L621.095,1101.93 L622.334,1100.90 L623.572,1099.86 L624.811,1098.81 L626.050,1097.77 L627.289,1096.72 L628.528,1095.66 L629.766,1094.61 L631.005,1093.55 L632.244,1092.48 L633.483,1091.41 L634.722,1090.34 L635.960,1089.26 L637.199,1088.18 L638.438,1087.09 L639.677,1086.01 L640.916,1084.91 L642.154,1083.82 L643.393,1082.72 L644.632,1081.61 L645.871,1080.50 L647.110,1079.39 L648.348,1078.27 L649.587,1077.15 L650.826,1076.03 L652.065,1074.90 L653.304,1073.77 L654.542,1072.63 L655.781,1071.49 L657.020,1070.34 L658.259,1069.19 L659.498,1068.04 L660.736,1066.88 L661.975,1065.72 L663.214,1064.55 L664.453,1063.38 L665.692,1062.21 L666.930,1061.03 L668.169,1059.84 L669.408,1058.66 L670.647,1057.47 L671.886,1056.27 L673.124,1055.07 L674.363,1053.86 L675.602,1052.66 L676.841,1051.44 L678.080,1050.22 L679.318,1049.00 L680.557,1047.77 L681.796,1046.54 L683.035,1045.31 L684.274,1044.07 L685.512,1042.82 L686.751,1041.57 L687.990,1040.32 L689.229,1039.06 L690.467,1037.80 L691.706,1036.53 L692.945,1035.26 L694.184,1033.98 L695.423,1032.70 L696.661,1031.42 L697.900,1030.13 L699.139,1028.83 L700.378,1027.53 L701.617,1026.23 L702.855,1024.92 L704.094,1023.60 L705.333,1022.28 L706.572,1020.96 L707.811,1019.63 L709.049,1018.30 L710.288,1016.96 L711.527,1015.62 L712.766,1014.27 L714.005,1012.92 L715.243,1011.56 L716.482,1010.20 L717.721,1008.83 L718.960,1007.46 L720.199,1006.08 L721.437,1004.70 L722.676,1003.31 L723.915,1001.92 L725.154,1000.52 L726.393,999.12 L727.631,997.71 L728.870,996.30 L730.109,994.88 L731.348,993.46 L732.587,992.03 L733.825,990.60 L735.064,989.16 L736.303,987.71 L737.542,986.27 L738.781,984.81 L740.019,983.35 L741.258,981.89 L742.497,980.42 L743.736,978.94 L744.975,977.46 L746.213,975.98 L747.452,974.48 L748.691,972.99 L749.930,971.49 L751.169,969.98 L752.407,968.46 L753.646,966.95 L754.885,965.42 L756.124,963.89 L757.363,962.36 L758.601,960.82 L759.840,959.27 L761.079,957.72 L762.318,956.16 L763.557,954.60 L764.795,953.03 L766.034,951.45 L767.273,949.87 L768.512,948.29 L769.751,946.70 L770.989,945.10 L772.228,943.50 L773.467,941.89 L774.706,940.27 L775.945,938.65 L777.183,937.03 L778.422,935.39 L779.661,933.75 L780.900,932.11 L782.139,930.46 L783.377,928.80 L784.616,927.14 L785.855,925.47 L787.094,923.80 L788.333,922.12 L789.571,920.43 L790.810,918.74 L792.049,917.04 L793.288,915.34 L794.527,913.62 L795.765,911.91 L797.004,910.18 L798.243,908.45 L799.482,906.72 L800.720,904.98 L801.959,903.23 L803.198,901.47 L804.437,899.71 L805.676,897.94 L806.914,896.17 L808.153,894.39 L809.392,892.60 L810.631,890.81 L811.870,889.01 L813.108,887.20 L814.347,885.39 L815.586,883.57 L816.825,881.74 L818.064,879.91 L819.302,878.07 L820.541,876.23 L821.780,874.37 L823.019,872.51 L824.258,870.65 L825.496,868.77 L826.735,866.90 L827.974,865.01 L829.213,863.12 L830.452,861.22 L831.690,859.31 L832.929,857.39 L834.168,855.47 L835.407,853.55 L836.646,851.61 L837.884,849.67 L839.123,847.72 L840.362,845.76 L841.601,843.80 L842.840,841.83 L844.078,839.85 L845.317,837.87 L846.556,835.88 L847.795,833.88 L849.034,831.87 L850.272,829.86 L851.511,827.84 L852.750,825.81" fill="none" stroke="#ff0000" stroke-width="2.4" stroke-dasharray="9.00 12.128" stroke-dashoffset="20.828"/></g>
<path d="M118.23,1304.22 L126.63,1316.87 L109.83,1316.87 Z" fill="none" stroke="#ff0000" stroke-width="1.3"/>
<path d="M118.23,1304.22 L126.63,1316.87 L109.83,1316.87 Z" fill="none" stroke="#ff0000" stroke-width="1.3"/>
<path d="M118.23,1304.49 L126.63,1317.14 L109.83,1317.14 Z" fill="none" stroke="#ff0000" stroke-width="1.3"/>
<rect x="111.43" y="1306.60" width="13.60" height="12.60" fill="#ff0000"/>
<path d="M216.12,1303.13 L224.52,1315.78 L207.72,1315.78 Z" fill="none" stroke="#ff0000" stroke-width="1.3"/>
<path d="M216.12,1306.62 L224.52,1319.27 L207.72,1319.27 Z" fill="none" stroke="#ff0000" stroke-width="1.3"/>
<path d="M216.12,1310.27 L224.52,1322.92 L207.72,1322.92 Z" fill="none" stroke="#ff0000" stroke-width="1.3"/>
<rect x="209.32" y="1308.78" width="13.60" height="12.60" fill="#ff0000"/>
<path d="M333.60,1266.20 L342.00,1278.85 L325.20,1278.85 Z" fill="none" stroke="#ff0000" stroke-width="1.3"/>
<path d="M333.60,1270.40 L342.00,1283.05 L325.20,1283.05 Z" fill="none" stroke="#ff0000" stroke-width="1.3"/>
<path d="M333.60,1272.31 L342.00,1284.96 L325.20,1284.96 Z" fill="none" stroke="#ff0000" stroke-width="1.3"/>
<rect x="326.80" y="1272.12" width="13.60" height="12.60" fill="#ff0000"/>
<path d="M451.07,1245.85 L459.47,1258.50 L442.67,1258.50 Z" fill="none" stroke="#ff0000" stroke-width="1.3"/>
<path d="M451.07,1246.94 L459.47,1259.59 L442.67,1259.59 Z" fill="none" stroke="#ff0000" stroke-width="1.3"/>
<path d="M451.07,1247.76 L459.47,1260.41 L442.67,1260.41 Z" fill="none" stroke="#ff0000" stroke-width="1.3"/>
<rect x="444.27" y="1248.50" width="13.60" height="12.60" fill="#ff0000"/>
<path d="M568.55,1102.93 L576.95,1115.58 L560.15,1115.58 Z" fill="none" stroke="#ff0000" stroke-width="1.3"/>
<path d="M568.55,1107.84 L576.95,1120.49 L560.15,1120.49 Z" fill="none" stroke="#ff0000" stroke-width="1.3"/>
<path d="M568.55,1119.29 L576.95,1131.94 L560.15,1131.94 Z" fill="none" stroke="#ff0000" stroke-width="1.3"/>
<rect x="561.75" y="1112.40" width="13.60" height="12.60" fill="#ff0000"/>
<path d="M686.02,1084.38 L694.42,1097.03 L677.62,1097.03 Z" fill="none" stroke="#ff0000" stroke-width="1.3"/>
<path d="M686.02,1086.56 L694.42,1099.21 L677.62,1099.21 Z" fill="none" stroke="#ff0000" stroke-width="1.3"/>
<path d="M686.02,1088.20 L694.42,1100.85 L677.62,1100.85 Z" fill="none" stroke="#ff0000" stroke-width="1.3"/>
<rect x="679.22" y="1086.76" width="13.60" height="12.60" fill="#ff0000"/>
<path d="M803.50,987.83 L811.90,1000.48 L795.10,1000.48 Z" fill="none" stroke="#ff0000" stroke-width="1.3"/>
<path d="M803.50,1000.92 L811.90,1013.57 L795.10,1013.57 Z" fill="none" stroke="#ff0000" stroke-width="1.3"/>
<path d="M803.50,1015.65 L811.90,1028.30 L795.10,1028.30 Z" fill="none" stroke="#ff0000" stroke-width="1.3"/>
<rect x="796.70" y="1003.30" width="13.60" height="12.60" fill="#ff0000"/>
<path d="M920.97,785.99 L929.37,798.64 L912.57,798.64 Z" fill="none" stroke="#ff0000" stroke-width="1.3"/>
<path d="M920.97,807.27 L929.37,819.92 L912.57,819.92 Z" fill="none" stroke="#ff0000" stroke-width="1.3"/>
<path d="M920.97,824.18 L929.37,836.83 L912.57,836.83 Z" fill="none" stroke="#ff0000" stroke-width="1.3"/>
<rect x="914.17" y="808.01" width="13.60" height="12.60" fill="#ff0000"/>
<rect x="105.60" y="1507.40" width="859.68" height="575.82" fill="none" stroke="#000" stroke-width="2.4"/>
<line x1="93.40" y1="2055.80" x2="105.60" y2="2055.80" stroke="#000" stroke-width="2.4"/>
<line x1="93.40" y1="1946.12" x2="105.60" y2="1946.12" stroke="#000" stroke-width="2.4"/>
<line x1="93.40" y1="1836.44" x2="105.60" y2="1836.44" stroke="#000" stroke-width="2.4"/>
<line x1="93.40" y1="1726.76" x2="105.60" y2="1726.76" stroke="#000" stroke-width="2.4"/>
<line x1="93.40" y1="1617.08" x2="105.60" y2="1617.08" stroke="#000" stroke-width="2.4"/>
<line x1="93.40" y1="1507.40" x2="105.60" y2="1507.40" stroke="#000" stroke-width="2.4"/>
<line x1="99.60" y1="2000.96" x2="105.60" y2="2000.96" stroke="#000" stroke-width="2.4"/>
<line x1="99.60" y1="1891.28" x2="105.60" y2="1891.28" stroke="#000" stroke-width="2.4"/>
<line x1="99.60" y1="1781.60" x2="105.60" y2="1781.60" stroke="#000" stroke-width="2.4"/>
<line x1="99.60" y1="1671.92" x2="105.60" y2="1671.92" stroke="#000" stroke-width="2.4"/>
<line x1="99.60" y1="1562.24" x2="105.60" y2="1562.24" stroke="#000" stroke-width="2.4"/>
<line x1="105.60" y1="2083.22" x2="105.60" y2="2094.02" stroke="#000" stroke-width="2.4"/>
<line x1="222.83" y1="2083.22" x2="222.83" y2="2094.02" stroke="#000" stroke-width="2.4"/>
<line x1="340.06" y1="2083.22" x2="340.06" y2="2094.02" stroke="#000" stroke-width="2.4"/>
<line x1="457.29" y1="2083.22" x2="457.29" y2="2094.02" stroke="#000" stroke-width="2.4"/>
<line x1="574.51" y1="2083.22" x2="574.51" y2="2094.02" stroke="#000" stroke-width="2.4"/>
<line x1="691.74" y1="2083.22" x2="691.74" y2="2094.02" stroke="#000" stroke-width="2.4"/>
<line x1="808.97" y1="2083.22" x2="808.97" y2="2094.02" stroke="#000" stroke-width="2.4"/>
<line x1="926.20" y1="2083.22" x2="926.20" y2="2094.02" stroke="#000" stroke-width="2.4"/>
<line x1="164.21" y1="2083.22" x2="164.21" y2="2088.82" stroke="#000" stroke-width="2.4"/>
<line x1="281.44" y1="2083.22" x2="281.44" y2="2088.82" stroke="#000" stroke-width="2.4"/>
<line x1="398.67" y1="2083.22" x2="398.67" y2="2088.82" stroke="#000" stroke-width="2.4"/>
<line x1="515.90" y1="2083.22" x2="515.90" y2="2088.82" stroke="#000" stroke-width="2.4"/>
<line x1="633.13" y1="2083.22" x2="633.13" y2="2088.82" stroke="#000" stroke-width="2.4"/>
<line x1="750.36" y1="2083.22" x2="750.36" y2="2088.82" stroke="#000" stroke-width="2.4"/>
<line x1="867.59" y1="2083.22" x2="867.59" y2="2088.82" stroke="#000" stroke-width="2.4"/>
<text transform="translate(69.30,2064.63) scale(1.0600,1)" font-size="30.00" fill="#000">0</text>
<text transform="translate(69.30,1955.05) scale(1.0600,1)" font-size="30.00" fill="#000">2</text>
<text transform="translate(69.30,1845.31) scale(1.0600,1)" font-size="30.00" fill="#000">4</text>
<text transform="translate(69.30,1735.55) scale(1.0600,1)" font-size="30.00" fill="#000">6</text>
<text transform="translate(69.30,1625.91) scale(1.0600,1)" font-size="30.00" fill="#000">8</text>
<text transform="translate(53.40,1516.23) scale(1.0600,1)" font-size="30.00" fill="#000">10</text>
<text transform="translate(97.65,2124.90) scale(1.0600,1)" font-size="30.00" fill="#000">0</text>
<text transform="translate(198.98,2124.90) scale(1.0600,1)" font-size="30.00" fill="#000">150</text>
<text transform="translate(316.21,2124.90) scale(1.0600,1)" font-size="30.00" fill="#000">300</text>
<text transform="translate(433.44,2124.90) scale(1.0600,1)" font-size="30.00" fill="#000">450</text>
<text transform="translate(550.66,2124.90) scale(1.0600,1)" font-size="30.00" fill="#000">600</text>
<text transform="translate(667.89,2124.90) scale(1.0600,1)" font-size="30.00" fill="#000">750</text>
<text transform="translate(785.12,2124.90) scale(1.0600,1)" font-size="30.00" fill="#000">900</text>
<text transform="translate(894.40,2124.90) scale(1.0600,1)" font-size="30.00" fill="#000">1050</text>
<text transform="translate(25.65,1488.90) scale(1.0992,1)" font-size="30.00" fill="#000">(c)</text>
<text transform="translate(39.20,1958.67) scale(1.1442,1) rotate(-90)" font-size="30.29">Density change rate</text>
<path d="M11.10,1688.70 A22.71,22.71 0 0,0 40.50,1688.70" fill="none" stroke="#000" stroke-width="1.8" stroke-linecap="round"/>
<path d="M11.10,1658.10 A24.91,24.91 0 0,1 40.50,1658.10" fill="none" stroke="#000" stroke-width="1.8" stroke-linecap="round"/>
<path d="M27.90,1668.30 a5.85,4.20 0 1,0 11.70,0 a5.85,4.20 0 1,0 -11.70,0 Z M29.00,1668.30 a4.75,2.00 0 1,0 9.50,0 a4.75,2.00 0 1,0 -9.50,0 Z" fill="#000" fill-rule="evenodd"/>
<path d="M16.10,1682.45 a5.90,4.15 0 1,0 11.80,0 a5.90,4.15 0 1,0 -11.80,0 Z M17.20,1682.45 a4.80,1.95 0 1,0 9.60,0 a4.80,1.95 0 1,0 -9.60,0 Z" fill="#000" fill-rule="evenodd"/>
<line x1="16.60" y1="1668.00" x2="39.40" y2="1682.30" stroke="#000" stroke-width="1.1"/>
<text transform="translate(405.52,2174.40) scale(1.0622,1)" font-size="30.08" fill="#000">Temperature</text>
<path d="M601.80,2149.70 A15.32,15.32 0 0,0 601.80,2175.30" fill="none" stroke="#000" stroke-width="1.8" stroke-linecap="round"/>
<path d="M638.80,2149.70 A16.65,16.65 0 0,1 638.80,2175.30" fill="none" stroke="#000" stroke-width="1.8" stroke-linecap="round"/>
<text transform="translate(601.38,2174.40) scale(1.0227,1)" font-size="31.15" fill="#000">°C</text>
<rect x="130.80" y="1524.60" width="334.50" height="133.90" fill="#000"/>
<rect x="121.40" y="1516.40" width="334.50" height="133.90" fill="#fff" stroke="#333" stroke-width="1.4"/>
<path d="M163.30,1538.20 L171.70,1550.85 L154.90,1550.85 Z" fill="none" stroke="#ff0000" stroke-width="1.3"/>
<rect x="156.70" y="1577.20" width="13.60" height="12.60" fill="#ff0000"/>
<line x1="126.10" y1="1619.80" x2="201.30" y2="1619.80" stroke="#ff0000" stroke-width="2.2" stroke-dasharray="10.1 12.9"/>
<text transform="translate(208.37,1555.80) scale(1.0966,1)" font-size="29.30" fill="#000">Experimental Data</text>
<text transform="translate(208.99,1592.70) scale(1.0966,1)" font-size="29.30" fill="#000">Average</text>
<text transform="translate(208.37,1629.40) scale(1.0966,1)" font-size="29.30" fill="#000">Fitting Curve</text>
<text transform="translate(479.93,1596.40) scale(1.0449,1)" font-size="29.00" fill="#000">K</text>
<text transform="translate(503.31,1605.70) scale(1.2689,1)" font-size="18.20" fill="#000">ρ</text>
<text transform="translate(513.05,1596.40) scale(1.1415,1)" font-size="29.00" fill="#000">=1.52e</text>
<text transform="translate(604.60,1582.80) scale(1.1137,1)" font-size="19.70" fill="#000">T/541.70</text>
<text transform="translate(684.85,1596.40) scale(1.0644,1)" font-size="29.00" fill="#000">-1.81</text>
<text transform="translate(479.25,1645.80) scale(1.1233,1)" font-size="29.50" fill="#000">R</text>
<text transform="translate(500.68,1631.40) scale(1.2540,1)" font-size="18.50" fill="#000">2</text>
<text transform="translate(510.57,1646.00) scale(1.1101,1)" font-size="29.50" fill="#000">=0.97</text>
<g transform="scale(1.08,1)"><path d="M115.869,2068.14 L117.105,2067.86 L118.341,2067.59 L119.577,2067.31 L120.813,2067.03 L122.050,2066.75 L123.286,2066.47 L124.522,2066.19 L125.758,2065.91 L126.994,2065.63 L128.231,2065.35 L129.467,2065.06 L130.703,2064.78 L131.939,2064.49 L133.175,2064.21 L134.412,2063.92 L135.648,2063.63 L136.884,2063.34 L138.120,2063.05 L139.357,2062.76 L140.593,2062.47 L141.829,2062.17 L143.065,2061.88 L144.301,2061.59 L145.538,2061.29 L146.774,2060.99 L148.010,2060.69 L149.246,2060.40 L150.482,2060.10 L151.719,2059.80 L152.955,2059.49 L154.191,2059.19 L155.427,2058.89 L156.663,2058.58 L157.900,2058.28 L159.136,2057.97 L160.372,2057.66 L161.608,2057.36 L162.844,2057.05 L164.081,2056.74 L165.317,2056.43 L166.553,2056.11 L167.789,2055.80 L169.025,2055.49 L170.262,2055.17 L171.498,2054.85 L172.734,2054.54 L173.970,2054.22 L175.207,2053.90 L176.443,2053.58 L177.679,2053.26 L178.915,2052.94 L180.151,2052.61 L181.388,2052.29 L182.624,2051.96 L183.860,2051.64 L185.096,2051.31 L186.332,2050.98 L187.569,2050.65 L188.805,2050.32 L190.041,2049.99 L191.277,2049.66 L192.513,2049.32 L193.750,2048.99 L194.986,2048.65 L196.222,2048.31 L197.458,2047.98 L198.694,2047.64 L199.931,2047.30 L201.167,2046.96 L202.403,2046.61 L203.639,2046.27 L204.875,2045.93 L206.112,2045.58 L207.348,2045.23 L208.584,2044.89 L209.820,2044.54 L211.057,2044.19 L212.293,2043.84 L213.529,2043.48 L214.765,2043.13 L216.001,2042.78 L217.238,2042.42 L218.474,2042.07 L219.710,2041.71 L220.946,2041.35 L222.182,2040.99 L223.419,2040.63 L224.655,2040.26 L225.891,2039.90 L227.127,2039.54 L228.363,2039.17 L229.600,2038.80 L230.836,2038.44 L232.072,2038.07 L233.308,2037.70 L234.544,2037.32 L235.781,2036.95 L237.017,2036.58 L238.253,2036.20 L239.489,2035.83 L240.725,2035.45 L241.962,2035.07 L243.198,2034.69 L244.434,2034.31 L245.670,2033.93 L246.907,2033.54 L248.143,2033.16 L249.379,2032.77 L250.615,2032.39 L251.851,2032.00 L253.088,2031.61 L254.324,2031.22 L255.560,2030.82 L256.796,2030.43 L258.032,2030.04 L259.269,2029.64 L260.505,2029.24 L261.741,2028.84 L262.977,2028.45 L264.213,2028.04 L265.450,2027.64 L266.686,2027.24 L267.922,2026.83 L269.158,2026.43 L270.394,2026.02 L271.631,2025.61 L272.867,2025.20 L274.103,2024.79 L275.339,2024.38 L276.575,2023.96 L277.812,2023.55 L279.048,2023.13 L280.284,2022.72 L281.520,2022.30 L282.757,2021.88 L283.993,2021.45 L285.229,2021.03 L286.465,2020.61 L287.701,2020.18 L288.938,2019.75 L290.174,2019.32 L291.410,2018.90 L292.646,2018.46 L293.882,2018.03 L295.119,2017.60 L296.355,2017.16 L297.591,2016.73 L298.827,2016.29 L300.063,2015.85 L301.300,2015.41 L302.536,2014.96 L303.772,2014.52 L305.008,2014.08 L306.244,2013.63 L307.481,2013.18 L308.717,2012.73 L309.953,2012.28 L311.189,2011.83 L312.425,2011.38 L313.662,2010.92 L314.898,2010.46 L316.134,2010.01 L317.370,2009.55 L318.606,2009.09 L319.843,2008.62 L321.079,2008.16 L322.315,2007.70 L323.551,2007.23 L324.788,2006.76 L326.024,2006.29 L327.260,2005.82 L328.496,2005.35 L329.732,2004.87 L330.969,2004.40 L332.205,2003.92 L333.441,2003.44 L334.677,2002.96 L335.913,2002.48 L337.150,2002.00 L338.386,2001.51 L339.622,2001.03 L340.858,2000.54 L342.094,2000.05 L343.331,1999.56 L344.567,1999.06 L345.803,1998.57 L347.039,1998.07 L348.275,1997.58 L349.512,1997.08 L350.748,1996.58 L351.984,1996.08 L353.220,1995.57 L354.456,1995.07 L355.693,1994.56 L356.929,1994.05 L358.165,1993.54 L359.401,1993.03 L360.638,1992.52 L361.874,1992.00 L363.110,1991.49 L364.346,1990.97 L365.582,1990.45 L366.819,1989.93 L368.055,1989.41 L369.291,1988.88 L370.527,1988.35 L371.763,1987.83 L373.000,1987.30 L374.236,1986.77 L375.472,1986.23 L376.708,1985.70 L377.944,1985.16 L379.181,1984.62 L380.417,1984.08 L381.653,1983.54 L382.889,1983.00 L384.125,1982.45 L385.362,1981.91 L386.598,1981.36 L387.834,1980.81 L389.070,1980.26 L390.306,1979.70 L391.543,1979.15 L392.779,1978.59 L394.015,1978.03 L395.251,1977.47 L396.488,1976.91 L397.724,1976.34 L398.960,1975.78 L400.196,1975.21 L401.432,1974.64 L402.669,1974.07 L403.905,1973.50 L405.141,1972.92 L406.377,1972.34 L407.613,1971.76 L408.850,1971.18 L410.086,1970.60 L411.322,1970.02 L412.558,1969.43 L413.794,1968.84 L415.031,1968.25 L416.267,1967.66 L417.503,1967.07 L418.739,1966.47 L419.975,1965.88 L421.212,1965.28 L422.448,1964.68 L423.684,1964.07 L424.920,1963.47 L426.156,1962.86 L427.393,1962.25 L428.629,1961.64 L429.865,1961.03 L431.101,1960.41 L432.338,1959.80 L433.574,1959.18 L434.810,1958.56 L436.046,1957.94 L437.282,1957.31 L438.519,1956.69 L439.755,1956.06 L440.991,1955.43 L442.227,1954.79 L443.463,1954.16 L444.700,1953.52 L445.936,1952.88 L447.172,1952.24 L448.408,1951.60 L449.644,1950.96 L450.881,1950.31 L452.117,1949.66 L453.353,1949.01 L454.589,1948.36 L455.825,1947.70 L457.062,1947.05 L458.298,1946.39 L459.534,1945.73 L460.770,1945.06 L462.006,1944.40 L463.243,1943.73 L464.479,1943.06 L465.715,1942.39 L466.951,1941.72 L468.188,1941.04 L469.424,1940.36 L470.660,1939.68 L471.896,1939.00 L473.132,1938.32 L474.369,1937.63 L475.605,1936.94 L476.841,1936.25 L478.077,1935.56 L479.313,1934.86 L480.550,1934.16 L481.786,1933.47 L483.022,1932.76 L484.258,1932.06 L485.494,1931.35 L486.731,1930.64 L487.967,1929.93 L489.203,1929.22 L490.439,1928.50 L491.675,1927.79 L492.912,1927.07 L494.148,1926.34 L495.384,1925.62 L496.620,1924.89 L497.856,1924.16 L499.093,1923.43 L500.329,1922.70 L501.565,1921.96 L502.801,1921.22 L504.037,1920.48 L505.274,1919.74 L506.510,1919.00 L507.746,1918.25 L508.982,1917.50 L510.219,1916.74 L511.455,1915.99 L512.691,1915.23 L513.927,1914.47 L515.163,1913.71 L516.400,1912.95 L517.636,1912.18 L518.872,1911.41 L520.108,1910.64 L521.344,1909.86 L522.581,1909.09 L523.817,1908.31 L525.053,1907.53 L526.289,1906.74 L527.525,1905.96 L528.762,1905.17 L529.998,1904.37 L531.234,1903.58 L532.470,1902.78 L533.706,1901.98 L534.943,1901.18 L536.179,1900.38 L537.415,1899.57 L538.651,1898.76 L539.887,1897.95 L541.124,1897.14 L542.360,1896.32 L543.596,1895.50 L544.832,1894.68 L546.069,1893.85 L547.305,1893.02 L548.541,1892.19 L549.777,1891.36 L551.013,1890.53 L552.250,1889.69 L553.486,1888.85 L554.722,1888.00 L555.958,1887.16 L557.194,1886.31 L558.431,1885.46 L559.667,1884.60 L560.903,1883.75 L562.139,1882.89 L563.375,1882.03 L564.612,1881.16 L565.848,1880.29 L567.084,1879.42 L568.320,1878.55 L569.556,1877.67 L570.793,1876.79 L572.029,1875.91 L573.265,1875.03 L574.501,1874.14 L575.737,1873.25 L576.974,1872.36 L578.210,1871.46 L579.446,1870.56 L580.682,1869.66 L581.919,1868.76 L583.155,1867.85 L584.391,1866.94 L585.627,1866.03 L586.863,1865.11 L588.100,1864.19 L589.336,1863.27 L590.572,1862.35 L591.808,1861.42 L593.044,1860.49 L594.281,1859.56 L595.517,1858.62 L596.753,1857.68 L597.989,1856.74 L599.225,1855.80 L600.462,1854.85 L601.698,1853.90 L602.934,1852.94 L604.170,1851.99 L605.406,1851.02 L606.643,1850.06 L607.879,1849.10 L609.115,1848.13 L610.351,1847.15 L611.587,1846.18 L612.824,1845.20 L614.060,1844.22 L615.296,1843.23 L616.532,1842.25 L617.769,1841.25 L619.005,1840.26 L620.241,1839.26 L621.477,1838.26 L622.713,1837.26 L623.950,1836.25 L625.186,1835.24 L626.422,1834.23 L627.658,1833.21 L628.894,1832.19 L630.131,1831.17 L631.367,1830.14 L632.603,1829.11 L633.839,1828.08 L635.075,1827.05 L636.312,1826.01 L637.548,1824.96 L638.784,1823.92 L640.020,1822.87 L641.256,1821.82 L642.493,1820.76 L643.729,1819.70 L644.965,1818.64 L646.201,1817.57 L647.437,1816.50 L648.674,1815.43 L649.910,1814.35 L651.146,1813.28 L652.382,1812.19 L653.618,1811.11 L654.855,1810.02 L656.091,1808.92 L657.327,1807.83 L658.563,1806.73 L659.800,1805.62 L661.036,1804.52 L662.272,1803.40 L663.508,1802.29 L664.744,1801.17 L665.981,1800.05 L667.217,1798.93 L668.453,1797.80 L669.689,1796.67 L670.925,1795.53 L672.162,1794.39 L673.398,1793.25 L674.634,1792.10 L675.870,1790.95 L677.106,1789.80 L678.343,1788.64 L679.579,1787.48 L680.815,1786.32 L682.051,1785.15 L683.287,1783.98 L684.524,1782.80 L685.760,1781.62 L686.996,1780.44 L688.232,1779.25 L689.468,1778.06 L690.705,1776.87 L691.941,1775.67 L693.177,1774.47 L694.413,1773.26 L695.650,1772.05 L696.886,1770.84 L698.122,1769.62 L699.358,1768.40 L700.594,1767.17 L701.831,1765.94 L703.067,1764.71 L704.303,1763.47 L705.539,1762.23 L706.775,1760.99 L708.012,1759.74 L709.248,1758.49 L710.484,1757.23 L711.720,1755.97 L712.956,1754.71 L714.193,1753.44 L715.429,1752.17 L716.665,1750.89 L717.901,1749.61 L719.137,1748.32 L720.374,1747.03 L721.610,1745.74 L722.846,1744.44 L724.082,1743.14 L725.318,1741.84 L726.555,1740.53 L727.791,1739.22 L729.027,1737.90 L730.263,1736.58 L731.500,1735.25 L732.736,1733.92 L733.972,1732.59 L735.208,1731.25 L736.444,1729.90 L737.681,1728.56 L738.917,1727.21 L740.153,1725.85 L741.389,1724.49 L742.625,1723.13 L743.862,1721.76 L745.098,1720.39 L746.334,1719.01 L747.570,1717.63 L748.806,1716.24 L750.043,1714.85 L751.279,1713.45 L752.515,1712.06 L753.751,1710.65 L754.987,1709.24 L756.224,1707.83 L757.460,1706.41 L758.696,1704.99 L759.932,1703.57 L761.168,1702.14 L762.405,1700.70 L763.641,1699.26 L764.877,1697.82 L766.113,1696.37 L767.350,1694.91 L768.586,1693.46 L769.822,1691.99 L771.058,1690.53 L772.294,1689.06 L773.531,1687.58 L774.767,1686.10 L776.003,1684.61 L777.239,1683.12 L778.475,1681.63 L779.712,1680.13 L780.948,1678.62 L782.184,1677.11 L783.420,1675.60 L784.656,1674.08 L785.893,1672.55 L787.129,1671.02 L788.365,1669.49 L789.601,1667.95 L790.837,1666.41 L792.074,1664.86 L793.310,1663.31 L794.546,1661.75 L795.782,1660.19 L797.018,1658.62 L798.255,1657.04 L799.491,1655.47 L800.727,1653.88 L801.963,1652.30 L803.200,1650.70 L804.436,1649.10 L805.672,1647.50 L806.908,1645.89 L808.144,1644.28 L809.381,1642.66 L810.617,1641.04 L811.853,1639.41 L813.089,1637.77 L814.325,1636.14 L815.562,1634.49 L816.798,1632.84 L818.034,1631.19 L819.270,1629.53 L820.506,1627.86 L821.743,1626.19 L822.979,1624.52 L824.215,1622.83 L825.451,1621.15 L826.687,1619.46 L827.924,1617.76 L829.160,1616.06 L830.396,1614.35 L831.632,1612.64 L832.868,1610.92 L834.105,1609.19 L835.341,1607.46 L836.577,1605.73 L837.813,1603.99 L839.049,1602.24 L840.286,1600.49 L841.522,1598.73 L842.758,1596.97 L843.994,1595.20 L845.231,1593.43 L846.467,1591.65 L847.703,1589.86 L848.939,1588.07 L850.175,1586.27 L851.412,1584.47 L852.648,1582.66 L853.884,1580.85 L855.120,1579.03 L856.356,1577.21 L857.593,1575.37" fill="none" stroke="#ff0000" stroke-width="2.4" stroke-dasharray="9.00 12.184" stroke-dashoffset="20.984"/></g>
<path d="M125.14,2047.11 L133.54,2059.76 L116.74,2059.76 Z" fill="none" stroke="#ff0000" stroke-width="1.3"/>
<path d="M125.14,2047.38 L133.54,2060.03 L116.74,2060.03 Z" fill="none" stroke="#ff0000" stroke-width="1.3"/>
<path d="M125.14,2047.65 L133.54,2060.30 L116.74,2060.30 Z" fill="none" stroke="#ff0000" stroke-width="1.3"/>
<rect x="118.34" y="2050.05" width="13.60" height="12.60" fill="#ff0000"/>
<path d="M222.83,2043.60 L231.23,2056.25 L214.43,2056.25 Z" fill="none" stroke="#ff0000" stroke-width="1.3"/>
<path d="M222.83,2046.83 L231.23,2059.48 L214.43,2059.48 Z" fill="none" stroke="#ff0000" stroke-width="1.3"/>
<path d="M222.83,2050.51 L231.23,2063.16 L214.43,2063.16 Z" fill="none" stroke="#ff0000" stroke-width="1.3"/>
<rect x="216.03" y="2049.12" width="13.60" height="12.60" fill="#ff0000"/>
<path d="M340.06,2006.09 L348.46,2018.74 L331.66,2018.74 Z" fill="none" stroke="#ff0000" stroke-width="1.3"/>
<path d="M340.06,2010.91 L348.46,2023.56 L331.66,2023.56 Z" fill="none" stroke="#ff0000" stroke-width="1.3"/>
<path d="M340.06,2012.01 L348.46,2024.66 L331.66,2024.66 Z" fill="none" stroke="#ff0000" stroke-width="1.3"/>
<rect x="333.26" y="2011.11" width="13.60" height="12.60" fill="#ff0000"/>
<path d="M457.29,1981.30 L465.69,1993.95 L448.89,1993.95 Z" fill="none" stroke="#ff0000" stroke-width="1.3"/>
<path d="M457.29,1982.94 L465.69,1995.59 L448.89,1995.59 Z" fill="none" stroke="#ff0000" stroke-width="1.3"/>
<path d="M457.29,1983.49 L465.69,1996.14 L448.89,1996.14 Z" fill="none" stroke="#ff0000" stroke-width="1.3"/>
<rect x="450.49" y="1984.24" width="13.60" height="12.60" fill="#ff0000"/>
<path d="M574.51,1839.81 L582.91,1852.46 L566.11,1852.46 Z" fill="none" stroke="#ff0000" stroke-width="1.3"/>
<path d="M574.51,1842.00 L582.91,1854.65 L566.11,1854.65 Z" fill="none" stroke="#ff0000" stroke-width="1.3"/>
<path d="M574.51,1853.80 L582.91,1866.45 L566.11,1866.45 Z" fill="none" stroke="#ff0000" stroke-width="1.3"/>
<rect x="567.71" y="1846.32" width="13.60" height="12.60" fill="#ff0000"/>
<path d="M691.74,1814.58 L700.14,1827.23 L683.34,1827.23 Z" fill="none" stroke="#ff0000" stroke-width="1.3"/>
<path d="M691.74,1818.97 L700.14,1831.62 L683.34,1831.62 Z" fill="none" stroke="#ff0000" stroke-width="1.3"/>
<path d="M691.74,1821.71 L700.14,1834.36 L683.34,1834.36 Z" fill="none" stroke="#ff0000" stroke-width="1.3"/>
<rect x="684.94" y="1819.17" width="13.60" height="12.60" fill="#ff0000"/>
<path d="M808.97,1722.45 L817.37,1735.10 L800.57,1735.10 Z" fill="none" stroke="#ff0000" stroke-width="1.3"/>
<path d="M808.97,1733.42 L817.37,1746.07 L800.57,1746.07 Z" fill="none" stroke="#ff0000" stroke-width="1.3"/>
<path d="M808.97,1746.03 L817.37,1758.68 L800.57,1758.68 Z" fill="none" stroke="#ff0000" stroke-width="1.3"/>
<rect x="802.17" y="1736.36" width="13.60" height="12.60" fill="#ff0000"/>
<path d="M926.20,1542.03 L934.60,1554.68 L917.80,1554.68 Z" fill="none" stroke="#ff0000" stroke-width="1.3"/>
<path d="M926.20,1559.03 L934.60,1571.68 L917.80,1571.68 Z" fill="none" stroke="#ff0000" stroke-width="1.3"/>
<path d="M926.20,1571.64 L934.60,1584.29 L917.80,1584.29 Z" fill="none" stroke="#ff0000" stroke-width="1.3"/>
<rect x="919.40" y="1560.05" width="13.60" height="12.60" fill="#ff0000"/>
</svg></body></html>
